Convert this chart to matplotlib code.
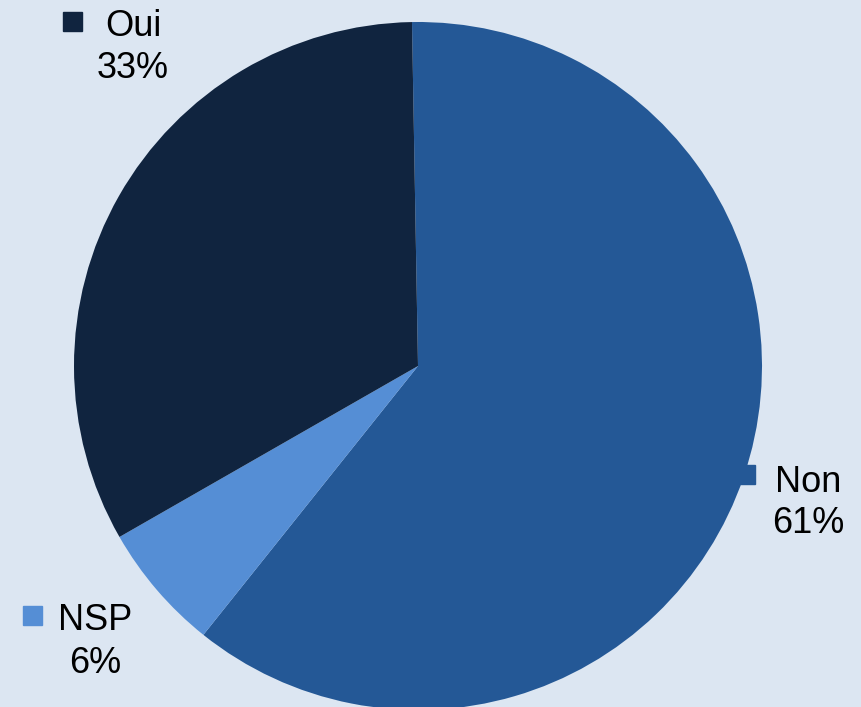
import matplotlib
matplotlib.use('Agg')
import matplotlib.pyplot as plt
from matplotlib.patches import Rectangle

labels = ['Non', 'NSP', 'Oui']
values = [61, 6, 33]
colors = ['#245896', '#558ED5', '#10243F']

# label anchor positions (pixel coords, y from top): text center x, name baseline, percent baseline
label_pos = {'Non': (808, 492, 533), 'NSP': (95, 630, 673), 'Oui': (133, 36, 78)}
square_pos = {'Non': (736, 465), 'NSP': (23, 606), 'Oui': (63, 12)}

W, H = 861, 707
fig = plt.figure(figsize=(W / 100, H / 100), dpi=100)
fig.patch.set_facecolor('#DCE6F2')
ax = fig.add_axes([0, 0, 1, 1])
ax.set_xlim(0, W)
ax.set_ylim(0, H)
ax.set_aspect('equal')
ax.axis('off')

ax.pie(values, colors=colors, startangle=91, counterclock=False,
       center=(418, H - 366), radius=344, frame=True,
       wedgeprops=dict(linewidth=0))
ax.set_xlim(0, W)
ax.set_ylim(0, H)
ax.axis('off')

total = sum(values)
font = ['Liberation Sans', 'DejaVu Sans']
for lab, val, col in zip(labels, values, colors):
    cx, yb1, yb2 = label_pos[lab]
    ax.text(cx, H - yb1, lab, ha='center', va='baseline', fontsize=26,
            family=font, color='black')
    ax.text(cx, H - yb2, '%d%%' % round(val / total * 100), ha='center',
            va='baseline', fontsize=26, family=font, color='black')
    sx, sy = square_pos[lab]
    ax.add_patch(Rectangle((sx, H - sy - 19), 19, 19, color=col, zorder=5))

fig.savefig('out.png', dpi=100, facecolor=fig.get_facecolor())
